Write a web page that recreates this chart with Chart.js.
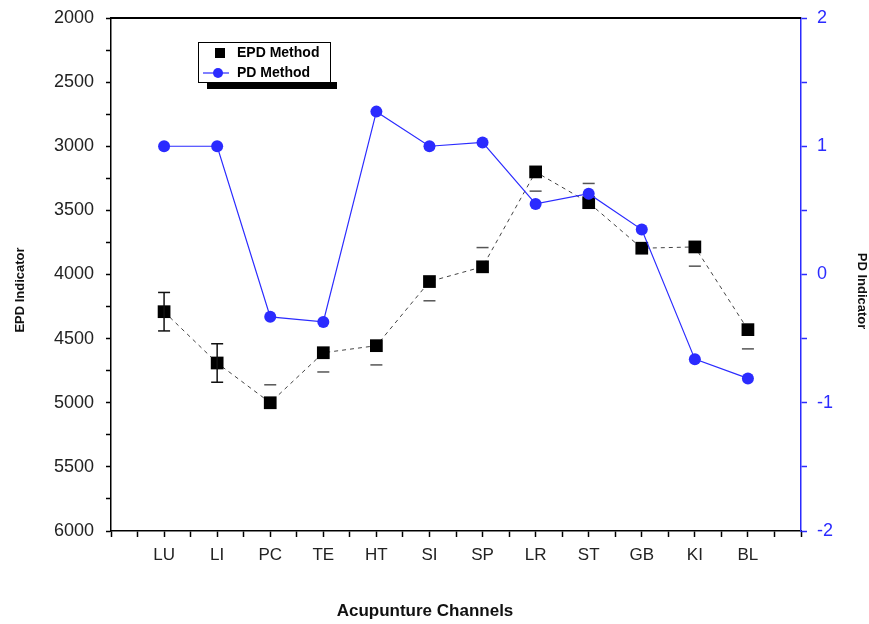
<!DOCTYPE html>
<html>
<head>
<meta charset="utf-8">
<script src="https://cdn.jsdelivr.net/npm/chart.js@4/dist/chart.umd.min.js"></script>
<style>
  html, body { margin: 0; padding: 0; background: #fff; }
  #wrap { width: 869px; height: 624px; }
</style>
</head>
<body>
<div id="wrap"><canvas id="c" width="869" height="624"></canvas></div>
<script>
const categories = ['LU','LI','PC','TE','HT','SI','SP','LR','ST','GB','KI','BL'];
const epdValues = [4290, 4690, 5000, 4610, 4555, 4055, 3940, 3200, 3440, 3795, 3785, 4430];
const epdErrUp = [150, 150, 140, 0, 0, 0, 150, 0, 150, 0, 0, 0];
const epdErrDown = [150, 150, 0, 150, 150, 150, 0, 150, 0, 0, 150, 150];
const pdValues = [1.0, 1.0, -0.33, -0.37, 1.27, 1.0, 1.03, 0.55, 0.63, 0.35, -0.66, -0.81];
const epdTicks = [2000, 2500, 3000, 3500, 4000, 4500, 5000, 5500, 6000];
const pdTicks = [-2, -1, 0, 1, 2];
const axisTitles = { x: 'Acupunture Channels', y: 'EPD Indicator', y1: 'PD Indicator' };

const BLUE = '#2b2bff';
const FONT = '"Liberation Sans", Arial, sans-serif';

const epdPoints = categories.map((c, i) => ({ x: i + 1, y: epdValues[i] }));
const pdPoints = categories.map((c, i) => ({ x: i + 1, y: pdValues[i] }));

const errorBars = {
  id: 'errorBars',
  afterDatasetsDraw(chart) {
    const ctx = chart.ctx;
    const xs = chart.scales.x, ys = chart.scales.y;
    ctx.save();
    epdValues.forEach((v, i) => {
      const px = xs.getPixelForValue(i + 1);
      const both = epdErrUp[i] > 0 && epdErrDown[i] > 0;
      ctx.strokeStyle = both ? '#111' : '#555';
      ctx.lineWidth = 1.5;
      const yUp = ys.getPixelForValue(v - epdErrUp[i]);
      const yDn = ys.getPixelForValue(v + epdErrDown[i]);
      if (both) {
        ctx.beginPath(); ctx.moveTo(px, yUp); ctx.lineTo(px, yDn); ctx.stroke();
      }
      if (epdErrUp[i] > 0) {
        ctx.beginPath(); ctx.moveTo(px - 6, yUp); ctx.lineTo(px + 6, yUp); ctx.stroke();
      }
      if (epdErrDown[i] > 0) {
        ctx.beginPath(); ctx.moveTo(px - 6, yDn); ctx.lineTo(px + 6, yDn); ctx.stroke();
      }
    });
    ctx.restore();
  }
};

const frameAndLegend = {
  id: 'frameAndLegend',
  afterDraw(chart) {
    const ctx = chart.ctx;
    const a = chart.chartArea;
    ctx.save();
    // top frame line
    ctx.strokeStyle = '#000';
    ctx.lineWidth = 2;
    ctx.beginPath(); ctx.moveTo(a.left, a.top); ctx.lineTo(a.right, a.top); ctx.stroke();
    // axis titles
    ctx.fillStyle = '#111';
    ctx.textAlign = 'center';
    ctx.textBaseline = 'middle';
    ctx.font = 'bold 17px ' + FONT;
    ctx.fillText(axisTitles.x, 425, 611);
    ctx.font = 'bold 13px ' + FONT;
    ctx.save();
    ctx.translate(20, 290); ctx.rotate(-Math.PI / 2);
    ctx.fillText(axisTitles.y, 0, 0);
    ctx.restore();
    ctx.save();
    ctx.translate(862, 291); ctx.rotate(Math.PI / 2);
    ctx.fillText(axisTitles.y1, 0, 0);
    ctx.restore();
    // legend box
    const bx = 198, by = 42, bw = 132, bh = 40;
    ctx.fillStyle = '#000';
    ctx.fillRect(207, by + bh, 130, 7);
    ctx.fillStyle = '#fff';
    ctx.fillRect(bx, by, bw, bh);
    ctx.strokeStyle = '#000';
    ctx.lineWidth = 1;
    ctx.strokeRect(bx + 0.5, by + 0.5, bw, bh);
    const ds = chart.data.datasets;
    ctx.font = 'bold 14px ' + FONT;
    ctx.textBaseline = 'middle';
    ctx.textAlign = 'left';
    // EPD entry
    ctx.fillStyle = '#000';
    ctx.fillRect(215, 48, 10, 10);
    ctx.fillText(ds[1].label, 237, 53);
    // PD entry
    ctx.strokeStyle = BLUE;
    ctx.lineWidth = 1.2;
    ctx.beginPath(); ctx.moveTo(203, 73); ctx.lineTo(229, 73); ctx.stroke();
    ctx.fillStyle = BLUE;
    ctx.beginPath(); ctx.arc(218, 73, 5, 0, Math.PI * 2); ctx.fill();
    ctx.fillStyle = '#000';
    ctx.fillText(ds[0].label, 237, 73);
    ctx.restore();
  }
};

new Chart(document.getElementById('c'), {
  type: 'line',
  data: {
    datasets: [
      {
        label: 'PD Method',
        data: pdPoints,
        yAxisID: 'y1',
        order: 0,
        borderColor: BLUE,
        backgroundColor: BLUE,
        borderWidth: 1.2,
        pointStyle: 'circle',
        pointRadius: 6,
        pointBorderWidth: 0,
        pointBackgroundColor: BLUE,
        tension: 0
      },
      {
        label: 'EPD Method',
        data: epdPoints,
        yAxisID: 'y',
        order: 1,
        borderColor: '#444',
        backgroundColor: '#000',
        borderWidth: 1,
        borderDash: [4, 4],
        pointStyle: 'rect',
        pointRadius: 9,
        pointBorderWidth: 0,
        pointBackgroundColor: '#000',
        tension: 0
      }
    ]
  },
  options: {
    responsive: false,
    animation: false,
    events: [],
    layout: { padding: { top: 18, left: 0, right: 0, bottom: 0 } },
    plugins: { legend: { display: false }, tooltip: { enabled: false } },
    scales: {
      x: {
        type: 'linear',
        min: 0, max: 13,
        afterFit(s) { s.height = 93; s.paddingLeft = 0; s.paddingRight = 0; },
        afterBuildTicks(s) {
          const t = [];
          for (let v = 0; v <= 26; v++) t.push({ value: v / 2 });
          s.ticks = t;
        },
        ticks: {
          autoSkip: false, maxRotation: 0, padding: 8,
          color: '#222',
          font: { family: FONT, size: 17 },
          callback: (v) => (Number.isInteger(v) && v >= 1 && v <= 12) ? categories[v - 1] : ''
        },
        grid: { drawOnChartArea: false, drawTicks: true, tickLength: 6, tickColor: '#000', tickWidth: 1.5 },
        border: { display: true, color: '#000', width: 1.5 },
        title: { display: false }
      },
      y: {
        type: 'linear', position: 'left', reverse: true,
        min: 2000, max: 6000,
        afterFit(s) { s.width = 111; s.paddingTop = 0; s.paddingBottom = 0; },
        afterBuildTicks(s) {
          const t = [];
          for (let v = 2000; v <= 6000; v += 250) t.push({ value: v });
          s.ticks = t;
        },
        ticks: {
          padding: 12, color: '#222',
          font: { family: FONT, size: 18 },
          callback: (v) => epdTicks.includes(v) ? String(v) : ''
        },
        grid: { drawOnChartArea: false, drawTicks: true, tickLength: 5, tickColor: '#000', tickWidth: 1.5 },
        border: { display: true, color: '#000', width: 1.5 },
        title: { display: false }
      },
      y1: {
        type: 'linear', position: 'right',
        min: -2, max: 2,
        afterFit(s) { s.width = 68; s.paddingTop = 0; s.paddingBottom = 0; },
        afterBuildTicks(s) {
          const t = [];
          for (let v = -4; v <= 4; v++) t.push({ value: v / 2 });
          s.ticks = t;
        },
        ticks: {
          padding: 10, color: BLUE,
          font: { family: FONT, size: 18 },
          callback: (v) => pdTicks.includes(v) ? String(v) : ''
        },
        grid: { drawOnChartArea: false, drawTicks: true, tickLength: 6, tickColor: BLUE, tickWidth: 1.5 },
        border: { display: true, color: BLUE, width: 1.5 },
        title: { display: false }
      }
    }
  },
  plugins: [errorBars, frameAndLegend]
});
</script>
</body>
</html>
